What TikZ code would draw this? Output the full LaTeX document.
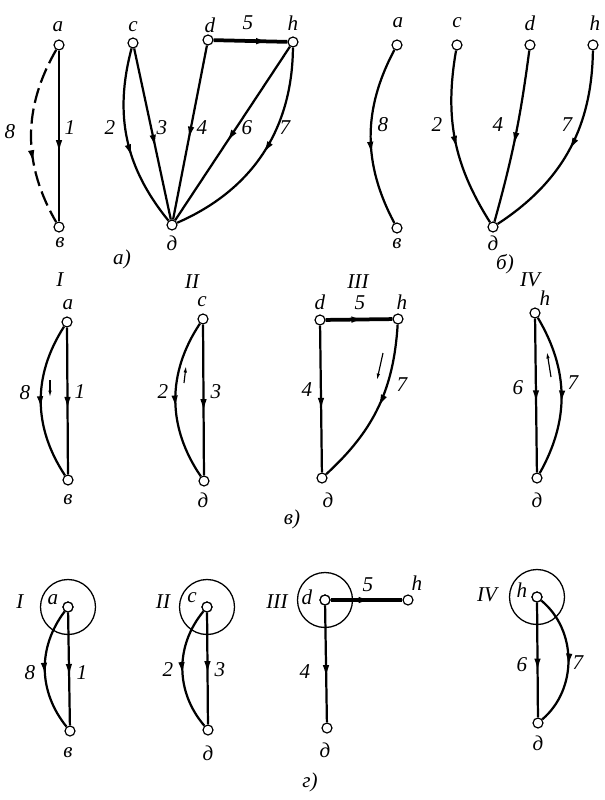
\documentclass[tikz,border=0pt]{standalone}
\usepackage{fontspec}
\setmainfont{Liberation Serif}
\usetikzlibrary{arrows.meta,decorations.markings}

\begin{document}
\begin{tikzpicture}[
        x=0.03cm, y=-0.03cm,
        vtx/.style={circle, draw, fill=white, line width=1pt, inner sep=0pt, minimum size=8.5pt},
        lbl/.style={font=\fontsize{18}{20}\selectfont\itshape, inner sep=0pt},
        ln/.style={line width=1.9pt},
        fat/.style={line width=3.2pt},
        arrowat/.style={postaction={decorate, decoration={markings,
            mark=at position #1 with {\arrow{Latex[length=11pt,width=5.5pt]}}}}},
        arrowat/.default=0.58,
        dirarr/.style={line width=1pt, -{Latex[length=5.5pt,width=3pt]}},
        ring/.style={line width=1.1pt},
      ]
      \useasboundingbox (0,0) rectangle (604,800);

      % a) whole graph
      \node[vtx] (a1) at (59,45) {};
      \node[vtx] (v1) at (59,227) {};
      \node[vtx] (c1) at (133,43) {};
      \node[vtx] (e1) at (172,225) {};
      \node[vtx] (d1) at (208,40) {};
      \node[vtx] (h1) at (293,42) {};
      \draw[ln, arrowat=0.6] (a1) -- (v1);
      \draw[ln, dash pattern=on 13pt off 5pt, arrowat=0.65] (a1) to[bend right=30] (v1);
      \draw[ln, arrowat=0.6] (c1) to[bend right=27] (e1);
      \draw[ln, arrowat=0.58] (c1) -- (e1);
      \draw[ln, arrowat=0.54] (d1) -- (e1);
      \draw[ln, arrowat=0.55] (h1) -- (e1);
      \draw[ln, arrowat=0.5] (h1) to[bend left=33] (e1);
      \draw[fat, arrowat=0.75] (d1) -- (h1);
      \node[lbl] (ta1) at (58,27) {a};
      \node[lbl] (tv1) at (60,243) {в};
      \node[lbl] (tc1) at (133,27) {c};
      \node[lbl] (te1) at (172,243) {д};
      \node[lbl] (td1) at (210,25) {d};
      \node[lbl] (th1) at (293,23) {h};
      \node[lbl] (n8a) at (10,132) {8};
      \node[lbl] (n1a) at (70,128) {1};
      \node[lbl] (n2a) at (110,128) {2};
      \node[lbl] (n3a) at (162,128) {3};
      \node[lbl] (n4a) at (202,128) {4};
      \node[lbl] (n6a) at (247,128) {6};
      \node[lbl] (n7a) at (285,128) {7};
      \node[lbl] (n5a) at (248,23) {5};
      \node[lbl] (capa) at (122,259) {а)};

      % b) tree
      \node[vtx] (a2) at (397,45) {};
      \node[vtx] (v2) at (397,228) {};
      \node[vtx] (c2) at (457,45) {};
      \node[vtx] (d2) at (530,45) {};
      \node[vtx] (h2) at (593,45) {};
      \node[vtx] (e2) at (493,227) {};
      \draw[ln, arrowat=0.6] (a2) to[bend right=28] (v2);
      \draw[ln, arrowat=0.55] (c2) to[bend right=21] (e2);
      \draw[ln, arrowat=0.55] (d2) to[bend left=4] (e2);
      \draw[ln, arrowat=0.5] (h2) to[bend left=28] (e2);
      \node[lbl] (ta2) at (398,23) {a};
      \node[lbl] (tc2) at (457,23) {c};
      \node[lbl] (td2) at (530,23) {d};
      \node[lbl] (th2) at (595,23) {h};
      \node[lbl] (tv2) at (397,244) {в};
      \node[lbl] (te2) at (493,243) {д};
      \node[lbl] (n8b) at (383,125) {8};
      \node[lbl] (n2b) at (437,125) {2};
      \node[lbl] (n4b) at (498,125) {4};
      \node[lbl] (n7b) at (567,125) {7};
      \node[lbl] (capb) at (505,264) {б)};

      % c) four loops
      \node[vtx] (a3) at (67,322) {};
      \node[vtx] (v3) at (68,480) {};
      \node[vtx] (c3) at (203,319) {};
      \node[vtx] (e3) at (204,481) {};
      \node[vtx] (d3) at (320,320) {};
      \node[vtx] (h3) at (398,319) {};
      \node[vtx] (f3) at (322,478) {};
      \node[vtx] (k3) at (535,313) {};
      \node[vtx] (g3) at (537,478) {};
      \draw[ln, arrowat=0.56] (a3) -- (v3);
      \draw[ln, arrowat=0.55] (a3) to[bend right=33] (v3);
      \draw[ln, arrowat=0.58] (c3) -- (e3);
      \draw[ln, arrowat=0.55] (c3) to[bend right=34] (e3);
      \draw[fat, arrowat=0.58] (d3) -- (h3);
      \draw[ln, arrowat=0.58] (d3) -- (f3);
      \draw[ln, arrowat=0.5] (h3) to[bend left=22] (f3);
      \draw[ln, arrowat=0.55] (k3) -- (g3);
      \draw[ln, arrowat=0.55] (k3) to[bend left=30] (g3);
      % loop directions
      \draw[dirarr] (50,380) -- (50,397);
      \draw[dirarr] (184,383) -- (186,366);
      \draw[dirarr] (383,353) -- (377,380);
      \draw[dirarr] (551,377) -- (547,352);
      \node[lbl] (r1c) at (60,280) {I};
      \node[lbl] (r2c) at (192,282) {II};
      \node[lbl] (r3c) at (358,282) {III};
      \node[lbl] (r4c) at (530,280) {IV};
      \node[lbl] (ta3) at (68,305) {a};
      \node[lbl] (tv3) at (68,500) {в};
      \node[lbl] (tc3) at (202,302) {c};
      \node[lbl] (te3) at (203,500) {д};
      \node[lbl] (td3) at (320,302) {d};
      \node[lbl] (th3) at (402,302) {h};
      \node[lbl] (tf3) at (328,500) {д};
      \node[lbl] (tk3) at (545,298) {h};
      \node[lbl] (tg3) at (537,500) {д};
      \node[lbl] (n8c) at (25,393) {8};
      \node[lbl] (n1c) at (80,392) {1};
      \node[lbl] (n2c) at (163,392) {2};
      \node[lbl] (n3c) at (216,392) {3};
      \node[lbl] (n5c) at (360,303) {5};
      \node[lbl] (n4c) at (307,390) {4};
      \node[lbl] (n7c) at (402,385) {7};
      \node[lbl] (n6c) at (518,388) {6};
      \node[lbl] (n7d) at (573,383) {7};
      \node[lbl] (capc) at (292,519) {в)};

      % d) cut sets round the vertices
      \node[vtx] (a4) at (68,607) {};
      \node[vtx] (v4) at (70,731) {};
      \node[vtx] (c4) at (207,607) {};
      \node[vtx] (e4) at (208,730) {};
      \node[vtx] (d4) at (325,600) {};
      \node[vtx] (h4) at (408,600) {};
      \node[vtx] (f4) at (327,728) {};
      \node[vtx] (k4) at (537,597) {};
      \node[vtx] (g4) at (538,723) {};
      \draw[ring] (a4.center) circle[radius=0.825cm];
      \draw[ring] (c4.center) circle[radius=0.825cm];
      \draw[ring] (d4.center) circle[radius=0.825cm];
      \draw[ring] (k4.center) circle[radius=0.825cm];
      \draw[ln, arrowat=0.57] (a4) -- (v4);
      \draw[ln, arrowat=0.55] (a4) to[bend right=38] (v4);
      \draw[ln, arrowat=0.55] (c4) -- (e4);
      \draw[ln, arrowat=0.55] (c4) to[bend right=40] (e4);
      \draw[fat, arrowat=0.57] (d4) -- (h4);
      \draw[ln, arrowat=0.62] (d4) -- (f4);
      \draw[ln, arrowat=0.6] (k4) -- (g4);
      \draw[ln, arrowat=0.55] (k4) to[bend left=50] (g4);
      \node[vtx] at (a4) {};
      \node[vtx] at (c4) {};
      \node[vtx] at (d4) {};
      \node[vtx] at (k4) {};
      \node[lbl] (r1d) at (20,602) {I};
      \node[lbl] (r2d) at (163,602) {II};
      \node[lbl] (r3d) at (277,602) {III};
      \node[lbl] (r4d) at (487,595) {IV};
      \node[lbl] (ta4) at (53,600) {a};
      \node[lbl] (tv4) at (68,753) {в};
      \node[lbl] (tc4) at (192,598) {c};
      \node[lbl] (te4) at (208,753) {д};
      \node[lbl] (td4) at (307,597) {d};
      \node[lbl] (th4) at (417,583) {h};
      \node[lbl] (tf4) at (325,750) {д};
      \node[lbl] (tk4) at (522,590) {h};
      \node[lbl] (tg4) at (538,743) {д};
      \node[lbl] (n8d) at (30,673) {8};
      \node[lbl] (n1d) at (82,673) {1};
      \node[lbl] (n2d) at (168,670) {2};
      \node[lbl] (n3d) at (220,670) {3};
      \node[lbl] (n5d) at (368,585) {5};
      \node[lbl] (n4d) at (305,672) {4};
      \node[lbl] (n6d) at (522,665) {6};
      \node[lbl] (n7e) at (578,663) {7};
      \node[lbl] (capd) at (310,782) {г)};
    \end{tikzpicture}
\end{document}
